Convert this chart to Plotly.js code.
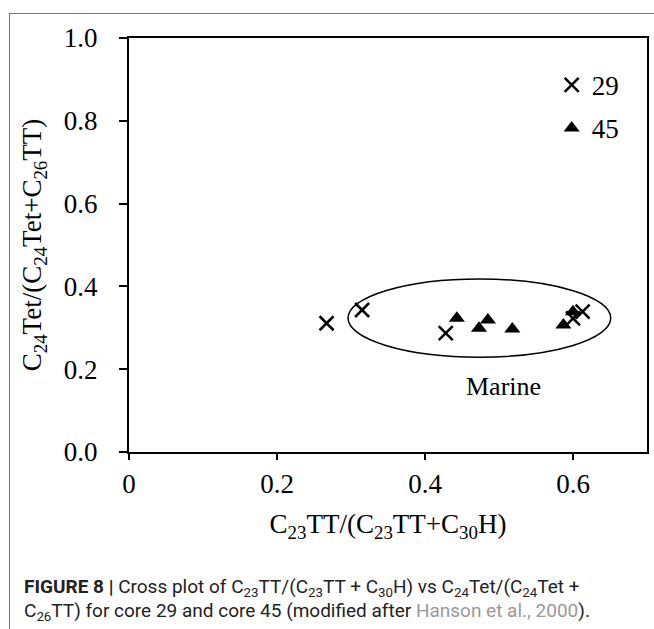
<!DOCTYPE html>
<html>
<head>
<meta charset="utf-8">
<script src="https://cdn.plot.ly/plotly-3.0.1.min.js"></script>
<style>
  html, body { margin: 0; padding: 0; background: #fff; }
  #frame { position: absolute; left: 9px; top: 13px; width: 645px; height: 616px;
           border-left: 1px solid #777; border-top: 1px solid #777; }
  #chart { position: absolute; left: 0; top: 0; width: 654px; height: 629px; }
</style>
</head>
<body>
<div id="frame"></div>
<div id="chart"></div>
<script>
// Core 29 samples
const core29X = [0.267, 0.315, 0.428, 0.600, 0.613];
const core29Y = [0.311, 0.343, 0.287, 0.323, 0.339];
// Core 45 samples
const core45X = [0.443, 0.473, 0.485, 0.518, 0.587, 0.600];
const core45Y = [0.323, 0.299, 0.319, 0.297, 0.307, 0.339];

const xTicks = [0, 0.2, 0.4, 0.6];
const xTickText = ['0', '0.2', '0.4', '0.6'];
const yTicks = [0, 0.2, 0.4, 0.6, 0.8, 1.0];
const yTickText = ['0.0', '0.2', '0.4', '0.6', '0.8', '1.0'];

// Marine field outline (x0, x1, y0, y1)
const marineField = [0.296, 0.651, 0.229, 0.418];

const serif = 'Liberation Serif, Times New Roman, serif';
const sans = 'Roboto, Liberation Sans, Arial, sans-serif';

const traces = [
  {
    x: core29X, y: core29Y, type: 'scatter', mode: 'markers', name: '29',
    legendgroup: 'a',
    marker: { symbol: 'x-thin', size: 14, color: '#000', line: { width: 2.5, color: '#000' } }
  },
  {
    x: core45X, y: core45Y, type: 'scatter', mode: 'markers', name: '45',
    legendgroup: 'b',
    marker: { symbol: 'triangle-up', size: 14, color: '#000', line: { width: 0 } }
  }
];

const axisCommon = {
  showgrid: false, zeroline: false, showline: true, linecolor: '#000', linewidth: 2,
  mirror: true, ticks: 'outside', tickcolor: '#000', tickwidth: 2,
  tickfont: { family: serif, size: 27, color: '#000' }, fixedrange: true
};

const layout = {
  width: 654, height: 629,
  margin: { l: 129, r: 7, t: 38, b: 177 },
  paper_bgcolor: 'rgba(0,0,0,0)', plot_bgcolor: '#fff',
  showlegend: true,
  legend: {
    x: 0.816, y: 0.945, xanchor: 'left', yanchor: 'top',
    font: { family: serif, size: 27, color: '#000' },
    bgcolor: 'rgba(0,0,0,0)', borderwidth: 0,
    traceorder: 'grouped', tracegroupgap: 5, itemsizing: 'trace'
  },
  xaxis: Object.assign({}, axisCommon, {
    range: [0, 0.7], tickvals: xTicks, ticktext: xTickText, ticklen: 6,
    ticklabelstandoff: 1,
    title: { text: 'C<sub>23</sub>TT/(C<sub>23</sub>TT+C<sub>30</sub>H)', font: { family: serif, size: 27, color: '#000' }, standoff: 16 }
  }),
  yaxis: Object.assign({}, axisCommon, {
    range: [0, 1], tickvals: yTicks, ticktext: yTickText, ticklen: 8,
    ticklabelstandoff: 16,
    title: { text: 'C<sub>24</sub>Tet/(C<sub>24</sub>Tet+C<sub>26</sub>TT)', font: { family: serif, size: 27, color: '#000' }, standoff: 14 }
  }),
  shapes: [{
    type: 'circle', xref: 'x', yref: 'y',
    x0: marineField[0], x1: marineField[1], y0: marineField[2], y1: marineField[3],
    line: { color: '#000', width: 1.5 }, layer: 'below'
  }],
  annotations: [
    { x: 0.506, y: 0.158, xref: 'x', yref: 'y', text: 'Marine', showarrow: false,
      font: { family: serif, size: 26, color: '#000' } },
    { x: -0.2066, y: -0.328, xref: 'paper', yref: 'paper', xanchor: 'left', yanchor: 'middle',
      showarrow: false, align: 'left',
      text: '<b>FIGURE 8 |</b> Cross plot of C<sub>23</sub>TT/(C<sub>23</sub>TT + C<sub>30</sub>H) vs C<sub>24</sub>Tet/(C<sub>24</sub>Tet +',
      font: { family: sans, size: 19, color: '#222' } },
    { x: -0.2066, y: -0.385, xref: 'paper', yref: 'paper', xanchor: 'left', yanchor: 'middle',
      showarrow: false, align: 'left',
      text: 'C<sub>26</sub>TT) for core 29 and core 45 (modified after <span style="color:#999">Hanson et al., 2000</span>).',
      font: { family: sans, size: 19, color: '#222' } }
  ]
};

Plotly.newPlot('chart', traces, layout, { displayModeBar: false, staticPlot: true });
</script>
</body>
</html>
